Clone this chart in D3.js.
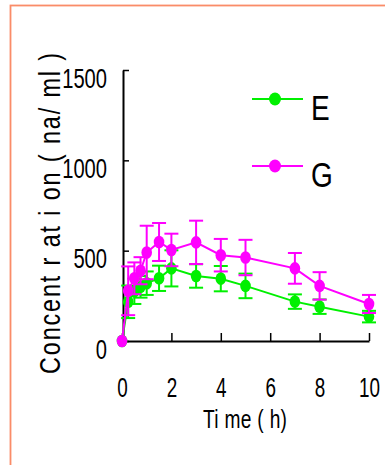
<!DOCTYPE html>
<html>
<head>
<meta charset="utf-8">
<script src="https://cdn.jsdelivr.net/npm/d3@7"></script>
<style>
  body { margin: 0; background: #fff; }
  svg { display: block; font-family: "Liberation Sans", Arial, sans-serif; }
</style>
</head>
<body>
<div class="graph"></div>
<script>
//Data
const times = [0, 0.25, 0.5, 0.75, 1, 1.5, 2, 3, 4, 5, 7, 8, 10];
const valuesE = [0, 217, 275, 300, 320, 347, 402, 360, 345, 305, 218, 190, 135];
const errorsE = [0, 90, 70, 60, 65, 70, 100, 65, 70, 68, 40, 40, 32];
const valuesG = [0, 278, 347, 389, 490, 548, 504, 546, 475, 462, 402, 305, 205];
const errorsG = [0, 135, 88, 75, 148, 105, 90, 120, 90, 98, 85, 76, 50];
const seriesNames = ["E", "G"];
const xTicks = [0, 2, 4, 6, 8, 10];
const yTicks = [0, 500, 1000, 1500];

const WIDTH = 385, HEIGHT = 465;
const colors = { E: "#00f000", G: "#ff00ff" };

let svg = d3.select(".graph")
    .append("svg")
    .attr("width", WIDTH)
    .attr("height", HEIGHT);

//Orange frame round the picture
svg.append("rect")
    .attr("x", 10.5).attr("y", 5.5)
    .attr("width", 420).attr("height", 520)
    .attr("fill", "none")
    .attr("stroke", "#fa8c68")
    .attr("stroke-width", 1.8);

let xScale = d3.scaleLinear().domain([0, 10]).range([122, 369]);
let yScale = d3.scaleLinear().domain([0, 1500]).range([341, 70]);

//X axis, ticks point inwards
svg.append("g")
    .attr("transform", `translate(0, ${yScale(0)})`)
    .call(d3.axisBottom(xScale).tickValues(xTicks).tickFormat(d3.format("d")).tickSize(-8).tickSizeOuter(0))
    .call(g => {
        g.select(".domain").attr("stroke", "#000").attr("stroke-width", 2);
        g.selectAll(".tick line").attr("stroke", "#000").attr("stroke-width", 1.5);
        g.selectAll(".tick text")
         .attr("y", 56).attr("dy", 0)
         .attr("font-size", 27)
         .attr("fill", "#000")
         .attr("font-family", "Liberation Sans, Arial")
         .attr("transform", "scale(0.7,1)");
    });

//Y axis
svg.append("g")
    .attr("transform", `translate(${xScale(0) + 1}, 0)`)
    .call(d3.axisLeft(yScale).tickValues(yTicks).tickFormat(d3.format("d")).tickSize(-6).tickSizeOuter(0))
    .call(g => {
        g.select(".domain").attr("stroke", "#000").attr("stroke-width", 2);
        g.selectAll(".tick line").attr("stroke", "#000").attr("stroke-width", 1.5);
        g.selectAll(".tick text")
         .attr("x", -16 / 0.72).attr("dy", 17)
         .attr("font-size", 28)
         .attr("fill", "#000")
         .attr("font-family", "Liberation Sans, Arial")
         .attr("transform", "scale(0.72,1)");
    });

//Axis titles (narrow glyphs, wide spacing as in the original)
svg.append("text")
    .attr("transform", "translate(245, 428) scale(0.75,1)")
    .attr("text-anchor", "middle")
    .attr("font-size", 25.6)
    .attr("textLength", 84 / 0.75)
    .attr("lengthAdjust", "spacing")
    .text("Ti me ( h)");

svg.append("text")
    .attr("transform", "translate(60, 213.5) rotate(-90) scale(0.78,1)")
    .attr("text-anchor", "middle")
    .attr("font-size", 30)
    .attr("textLength", 321 / 0.78)
    .attr("lengthAdjust", "spacing")
    .text("Concent r at i on ( na/ ml )");

//Series: lines, error bars and points
const series = [
    { name: seriesNames[0], values: valuesE, errors: errorsE },
    { name: seriesNames[1], values: valuesG, errors: errorsG }
];

const line = d3.line()
    .x(d => xScale(d.t))
    .y(d => yScale(d.v));

series.forEach(s => {
    const pts = times.map((t, i) => ({ t: t, v: s.values[i], e: s.errors[i] }));
    const col = colors[s.name];
    const g = svg.append("g");

    g.append("path")
     .datum(pts)
     .attr("d", line)
     .attr("fill", "none")
     .attr("stroke", col)
     .attr("stroke-width", 2);

    const bars = g.selectAll(".err")
     .data(pts.filter(d => d.e > 0))
     .enter()
     .append("g");

    bars.append("line")
     .attr("x1", d => xScale(d.t)).attr("x2", d => xScale(d.t))
     .attr("y1", d => yScale(d.v - d.e)).attr("y2", d => yScale(d.v + d.e))
     .attr("stroke", col).attr("stroke-width", 2);

    [1, -1].forEach(sign => {
        bars.append("line")
         .attr("x1", d => xScale(d.t) - 7).attr("x2", d => xScale(d.t) + 7)
         .attr("y1", d => yScale(d.v + sign * d.e)).attr("y2", d => yScale(d.v + sign * d.e))
         .attr("stroke", col).attr("stroke-width", 2);
    });

    g.selectAll(".pt")
     .data(pts)
     .enter()
     .append("ellipse")
     .attr("cx", d => xScale(d.t))
     .attr("cy", d => yScale(d.v))
     .attr("rx", 5.3)
     .attr("ry", 6.3)
     .attr("fill", col);
});

//Legend
const legendY = [99, 166];
series.forEach((s, i) => {
    const col = colors[s.name];
    svg.append("line")
       .attr("x1", 252).attr("x2", 303)
       .attr("y1", legendY[i]).attr("y2", legendY[i])
       .attr("stroke", col).attr("stroke-width", 2);
    svg.append("ellipse")
       .attr("cx", 275).attr("cy", legendY[i])
       .attr("rx", 6).attr("ry", 6.5)
       .attr("fill", col);
    svg.append("text")
       .attr("transform", `translate(311, ${legendY[i] + 21}) scale(0.8,1)`)
       .attr("font-size", 35)
       .text(s.name);
});
</script>
</body>
</html>
